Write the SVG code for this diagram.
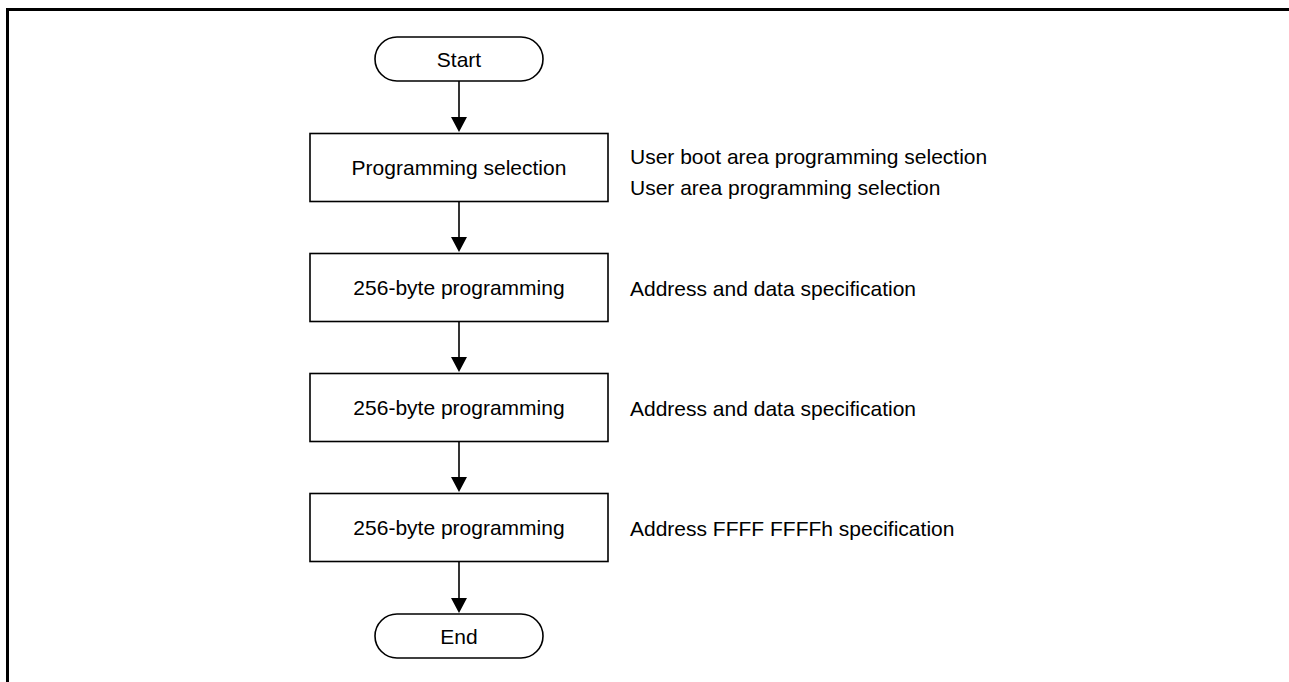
<svg xmlns="http://www.w3.org/2000/svg" width="1289" height="682" viewBox="0 0 1289 682">
<style>
.box{fill:#fff;stroke:#000;stroke-width:1.6}
.t{font-family:"Liberation Sans",Arial,sans-serif;font-size:21px;fill:#000}
.c{text-anchor:middle}
.ln{stroke:#000;stroke-width:1.6;fill:none}
</style>
<rect width="1289" height="682" fill="#fff"/>
<path d="M7.5,682 V9.5 H1289" stroke="#000" stroke-width="3" fill="none"/>
<g id="connectors">
<line class="ln" x1="459" y1="81" x2="459" y2="118" />
<path d="M451,117 L467,117 L459,132 Z" fill="#000"/>
<line class="ln" x1="459" y1="201" x2="459" y2="238" />
<path d="M451,237 L467,237 L459,252 Z" fill="#000"/>
<line class="ln" x1="459" y1="321" x2="459" y2="358" />
<path d="M451,357 L467,357 L459,372 Z" fill="#000"/>
<line class="ln" x1="459" y1="441" x2="459" y2="478" />
<path d="M451,477 L467,477 L459,492 Z" fill="#000"/>
<line class="ln" x1="459" y1="561" x2="459" y2="599" />
<path d="M451,598 L467,598 L459,613 Z" fill="#000"/>
</g>
<g id="start">
<rect class="box" x="375" y="37" width="168" height="44" rx="22"/>
<text class="t c" x="459" y="66.5">Start</text>
</g>
<g id="prog-sel">
<rect class="box" x="310" y="133.5" width="298" height="68"/>
<text class="t c" x="459" y="174.5">Programming selection</text>
<text class="t" x="630" y="164">User boot area programming selection</text>
<text class="t" x="630" y="194.5">User area programming selection</text>
</g>
<g id="prog1">
<rect class="box" x="310" y="253.5" width="298" height="68"/>
<text class="t c" x="459" y="295">256-byte programming</text>
<text class="t" x="630" y="295.5">Address and data specification</text>
</g>
<g id="prog2">
<rect class="box" x="310" y="373.5" width="298" height="68"/>
<text class="t c" x="459" y="415">256-byte programming</text>
<text class="t" x="630" y="415.5">Address and data specification</text>
</g>
<g id="prog3">
<rect class="box" x="310" y="493.5" width="298" height="68"/>
<text class="t c" x="459" y="535">256-byte programming</text>
<text class="t" x="630" y="535.5">Address FFFF FFFFh specification</text>
</g>
<g id="end">
<rect class="box" x="375" y="614" width="168" height="44" rx="22"/>
<text class="t c" x="459" y="644">End</text>
</g>
</svg>
